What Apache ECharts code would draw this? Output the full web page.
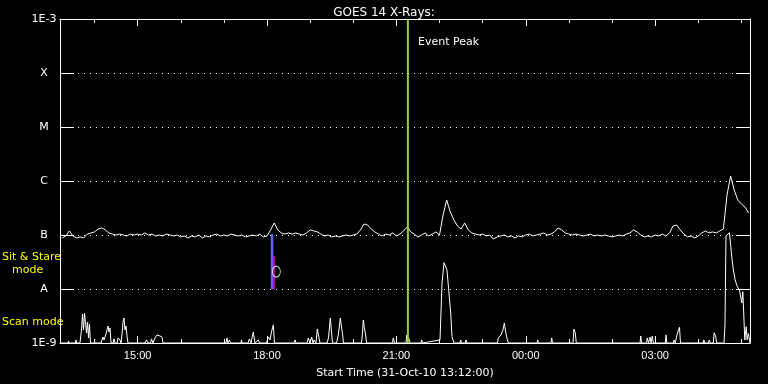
<!DOCTYPE html>
<html>
<head>
<meta charset="utf-8">
<script src="https://cdn.jsdelivr.net/npm/echarts@6/dist/echarts.min.js"></script>
<style>html,body{margin:0;padding:0;background:#000;}#c{width:768px;height:384px;}</style>
</head>
<body>
<div id="c"></div>
<script>
// ---- data ----
const titleText = 'GOES 14 X-Rays:';
const xAxisTitle = 'Start Time (31-Oct-10 13:12:00)';
// time axis in minutes of day (13:12 on 31-Oct to 05:12 next day)
const timeMin = 792, timeMax = 1752;
const majorTicks = [900, 1080, 1260, 1440, 1620];            // 15:00 18:00 21:00 00:00 03:00
const minorTicks = [840, 960, 1020, 1140, 1200, 1320, 1380, 1500, 1560, 1680, 1740];
const yTickLabels = { '-9': '1E-9', '-8': 'A', '-7': 'B', '-6': 'C', '-5': 'M', '-4': 'X', '-3': '1E-3' };

// long channel (1-8 A), 5-minute samples starting 13:15
const longStart = 795, longStep = 5;
const longValues = [
 0.88e-7,0.96e-7,1.19e-7,0.96e-7,0.88e-7,0.92e-7,0.88e-7,1.04e-7,1.09e-7,1.14e-7,
 1.29e-7,1.35e-7,1.24e-7,1.09e-7,1.04e-7,1.00e-7,1.04e-7,1.00e-7,0.96e-7,1.04e-7,
 1.00e-7,1.04e-7,1.00e-7,1.09e-7,1.00e-7,1.04e-7,0.96e-7,1.00e-7,0.96e-7,1.04e-7,
 1.00e-7,0.96e-7,1.00e-7,0.92e-7,0.96e-7,0.88e-7,0.96e-7,0.92e-7,1.00e-7,0.88e-7,
 0.96e-7,0.92e-7,1.00e-7,1.04e-7,0.96e-7,1.00e-7,0.96e-7,1.04e-7,1.00e-7,0.96e-7,
 1.00e-7,0.92e-7,0.96e-7,1.00e-7,0.96e-7,1.04e-7,0.92e-7,0.96e-7,1.24e-7,1.67e-7,
 1.24e-7,1.09e-7,1.04e-7,1.09e-7,1.04e-7,1.09e-7,1.04e-7,1.00e-7,1.09e-7,1.24e-7,
 1.19e-7,1.14e-7,1.04e-7,0.96e-7,1.00e-7,0.92e-7,0.96e-7,0.92e-7,0.96e-7,1.00e-7,
 0.96e-7,1.00e-7,1.04e-7,1.24e-7,1.60e-7,1.53e-7,1.29e-7,1.14e-7,1.04e-7,0.96e-7,
 1.04e-7,1.00e-7,1.09e-7,0.96e-7,1.04e-7,1.19e-7,1.41e-7,1.14e-7,1.04e-7,0.92e-7,
 1.00e-7,1.09e-7,0.96e-7,1.04e-7,1.14e-7,1.00e-7,2.35e-7,4.45e-7,2.67e-7,1.90e-7,
 1.47e-7,1.29e-7,1.67e-7,1.24e-7,1.09e-7,1.04e-7,1.00e-7,1.04e-7,0.96e-7,1.00e-7,
 0.84e-7,0.92e-7,0.96e-7,1.00e-7,0.92e-7,0.96e-7,0.88e-7,0.96e-7,0.92e-7,1.00e-7,
 1.04e-7,0.96e-7,1.00e-7,1.04e-7,1.09e-7,1.00e-7,1.04e-7,1.14e-7,1.35e-7,1.24e-7,
 1.09e-7,1.04e-7,1.00e-7,1.04e-7,1.00e-7,0.96e-7,1.00e-7,1.04e-7,0.96e-7,1.00e-7,
 0.96e-7,1.00e-7,0.96e-7,0.92e-7,0.96e-7,1.00e-7,0.96e-7,1.04e-7,1.09e-7,1.24e-7,
 1.14e-7,1.00e-7,0.92e-7,0.96e-7,0.92e-7,1.00e-7,0.96e-7,1.04e-7,0.96e-7,1.09e-7,
 1.47e-7,1.53e-7,1.24e-7,1.04e-7,0.92e-7,0.96e-7,0.88e-7,0.96e-7,1.09e-7,1.19e-7,
 1.09e-7,1.14e-7,1.09e-7,1.19e-7,1.29e-7,5.5e-7,12.4e-7,6.8e-7,4.45e-7,3.75e-7,
 3.3e-7,2.56e-7
];

// short channel (0.5-4 A), floor at 1E-9
const shortTimes = [
 792,803,803.8,804.5,813.5,814.3,815,
 819.8,821.9,823.3,824.7,826.1,827.5,828.9,830.3,831.7,833,834.4,
 849,851.8,853.2,856,858.8,860.2,861.6,863,
 866,867.1,868.5,871.5,872.7,874,875.5,876.9,
 878.3,879.7,881,882.4,883.8,885.2,886.6,
 910.3,912.3,914.4,918,919.3,921.4,924.2,926.9,929,931.1,933.9,935.3,
 1022.9,1024.3,1025.7,1027.8,1029.2,
 1043.8,1044.5,1045.2,
 1053.6,1055.4,1057.7,1060.9,1063.3,1067.9,1069.6,
 1079.3,1081.8,1084.2,1086.5,1088.8,1090.4,
 1117.6,1119,1120.4,
 1135.7,1137.5,1139.8,1142.2,1144,1145.4,1148.2,1150,1152,1153.7,
 1163.5,1165.5,1168.1,1169.5,1171.1,
 1176.7,1179.2,1182,1183.4,1185.3,1186.4,
 1211.5,1212.6,1214,1215.4,1217.3,1218.4,
 1254.6,1255.7,1257.4,
 1273.4,1274.4,1277.6,1279,
 1294.3,1295.2,1296.4,
 1320.7,1323.5,1326.3,1328.6,1330.4,1333.2,1335.6,1337.4,1340.2,
 1348.5,1349.5,1350.6,1356,1356.9,1358.2,
 1400.7,1401.8,1405.6,1408.3,1410.2,1412.1,1414.4,1416,
 1455.6,1456.6,1457.7,
 1475.1,1476.1,1477.2,
 1505.7,1507.1,1508.9,1510.3,
 1599,1600,1601.1,
 1608,1609.1,1610.8,1612.9,1614.3,1616.1,1617.5,
 1634.3,1635.1,1636.4,
 1645.3,1646.4,1648.1,1649.7,1652,1653.9,1655.3,
 1687.1,1687.7,1689.1,1694.3,1695.1,1696.8,1701,1702.1,1704.1,1705.5,
 1715.8,1717.2,1718.6,1723.4,1725.3,1727.1,1728.9,1731.3,1734.5,1737.3,1740.6,1742,1744.2,1744.8,1746.7,1748,1749.8,1752
];
const shortValues = [
 1e-9,1e-9,1.09e-9,1e-9,1e-9,1.14e-9,1e-9,
 1e-9,1.74e-9,3.44e-9,1.74e-9,3.59e-9,3.75e-9,1.53e-9,2.45e-9,1.24e-9,2.25e-9,1e-9,
 1e-9,1.29e-9,1.14e-9,1.47e-9,2.06e-9,1.6e-9,1.9e-9,1e-9,
 1e-9,1.19e-9,1e-9,1e-9,1.24e-9,1.14e-9,1.14e-9,1e-9,
 1.47e-9,2.45e-9,2.9e-9,1.74e-9,2.06e-9,1.35e-9,1e-9,
 1e-9,1.14e-9,1e-9,1e-9,1.19e-9,1e-9,1.24e-9,1.41e-9,1.47e-9,1.35e-9,1.29e-9,1e-9,
 1e-9,1.24e-9,1e-9,1.14e-9,1e-9,
 1e-9,1.14e-9,1e-9,
 1e-9,1.19e-9,1e-9,1.6e-9,1e-9,1.14e-9,1e-9,
 1e-9,1.29e-9,1.14e-9,1.67e-9,2.15e-9,1e-9,
 1e-9,1.14e-9,1e-9,
 1e-9,1.24e-9,1e-9,1.29e-9,1e-9,1.14e-9,1e-9,1.82e-9,1.74e-9,1e-9,
 1e-9,1.24e-9,2.9e-9,2.67e-9,1e-9,
 1e-9,1.41e-9,2.9e-9,2.06e-9,1.41e-9,1e-9,
 1e-9,1.41e-9,2.67e-9,1.9e-9,1.41e-9,1e-9,
 1e-9,1.24e-9,1e-9,
 1e-9,1.41e-9,1.19e-9,1e-9,
 1e-9,1.14e-9,1e-9,
 1.14e-9,12.9e-9,30.7e-9,31.6e-9,22.5e-9,8.4e-9,3.59e-9,1.31e-9,1e-9,
 1e-9,1.14e-9,1e-9,1e-9,1.14e-9,1e-9,
 1e-9,1.24e-9,1.41e-9,1.74e-9,2.35e-9,1.6e-9,1.14e-9,1e-9,
 1e-9,1.14e-9,1e-9,
 1e-9,1.24e-9,1e-9,
 1e-9,1.82e-9,1.55e-9,1e-9,
 1e-9,1.35e-9,1e-9,
 1e-9,1.24e-9,1e-9,1.29e-9,1e-9,1.35e-9,1e-9,
 1e-9,1.41e-9,1e-9,
 1e-9,1.14e-9,1e-9,1.29e-9,1.67e-9,1.95e-9,1e-9,
 1e-9,1.14e-9,1e-9,1e-9,1.14e-9,1e-9,1e-9,1.55e-9,1.35e-9,1e-9,
 1e-9,2.15e-9,96e-9,110e-9,61e-9,34.4e-9,22.5e-9,14.7e-9,11.0e-9,9.6e-9,5.5e-9,8.9e-9,8.9e-9,1.14e-9,2.0e-9,1.14e-9,1.5e-9,1e-9
];

// sit & stare markers
const sitStareTime = 1087, sitStareTop = 1.04e-7, sitStareBottom = 1e-8;
const sitStare2Time = 1089.5, sitStare2Top = 4.1e-8;
const circleTime = 1093, circleValue = 2.1e-8;
const eventPeakTime = 1276;
const eventPeakLabel = 'Event Peak';
const modeLabels = ['Sit & Stare', 'mode', 'Scan mode'];

// ---- chart ----
const chart = echarts.init(document.getElementById('c'), null, { renderer: 'canvas' });
const FONT = 'DejaVu Sans';
function hhmm(v) {
  const m = ((Math.round(v) % 1440) + 1440) % 1440;
  const h = Math.floor(m / 60), mm = m % 60;
  return String(h).padStart(2, '0') + ':' + String(mm).padStart(2, '0');
}
const longData = longValues.map((v, i) => [longStart + longStep * i, v]);
const shortData = shortValues.map((v, i) => [shortTimes[i], v]);

const baseX = { type: 'value', min: timeMin, max: timeMax, gridIndex: 0, splitLine: { show: false } };
chart.setOption({
  backgroundColor: '#000',
  animation: false,
  title: {
    text: titleText, left: 'center', top: 2,
    textStyle: { color: '#fff', fontFamily: FONT, fontSize: 12, fontWeight: 'normal' }
  },
  grid: { left: 60, right: 18, top: 19, bottom: 41, containLabel: false },
  xAxis: [
    Object.assign({}, baseX, {
      position: 'bottom',
      axisLine: { show: true, lineStyle: { color: '#fff', width: 1 } },
      axisTick: { show: true, inside: true, length: 7, customValues: majorTicks, lineStyle: { color: '#fff' } },
      axisLabel: { show: true, customValues: majorTicks, formatter: hhmm, color: '#fff', fontFamily: 'Liberation Sans', fontSize: 11, margin: 7 },
      name: xAxisTitle, nameLocation: 'middle', nameGap: 25,
      nameTextStyle: { color: '#fff', fontFamily: FONT, fontSize: 11 }
    }),
    Object.assign({}, baseX, {
      position: 'bottom',
      axisLine: { show: false },
      axisTick: { show: true, inside: true, length: 4, customValues: minorTicks, lineStyle: { color: '#fff' } },
      axisLabel: { show: false }
    }),
    Object.assign({}, baseX, {
      position: 'top',
      axisLine: { show: true, lineStyle: { color: '#fff', width: 1 } },
      axisTick: { show: true, inside: true, length: 7, customValues: majorTicks, lineStyle: { color: '#fff' } },
      axisLabel: { show: false }
    }),
    Object.assign({}, baseX, {
      position: 'top',
      axisLine: { show: false },
      axisTick: { show: true, inside: true, length: 4, customValues: minorTicks, lineStyle: { color: '#fff' } },
      axisLabel: { show: false }
    })
  ],
  yAxis: [
    {
      type: 'log', logBase: 10, min: 1e-9, max: 1e-3, position: 'left',
      axisLine: { show: true, lineStyle: { color: '#fff', width: 1 } },
      axisTick: { show: true, inside: true, length: 14, lineStyle: { color: '#fff', width: 1 } },
      axisLabel: {
        color: '#fff', fontFamily: FONT, fontSize: 11, align: 'center', margin: 16,
        formatter: v => yTickLabels[String(Math.round(Math.log10(v)))] || ''
      },
      splitLine: { show: true, lineStyle: { color: '#fff', type: [1, 5], width: 1 } },
      minorTick: { show: false }
    },
    {
      type: 'log', logBase: 10, min: 1e-9, max: 1e-3, position: 'right',
      axisLine: { show: true, lineStyle: { color: '#fff', width: 1 } },
      axisTick: { show: true, inside: true, length: 14, lineStyle: { color: '#fff', width: 1 } },
      axisLabel: { show: false },
      splitLine: { show: false }
    }
  ],
  series: [
    {
      name: 'long', type: 'line', data: longData, showSymbol: false, symbol: 'none',
      lineStyle: { color: '#fff', width: 1 }, z: 3, clip: true
    },
    {
      name: 'short', type: 'line', data: shortData, showSymbol: false, symbol: 'none',
      lineStyle: { color: '#fff', width: 1 }, z: 3, clip: true
    },
    {
      name: 'sitstare', type: 'line', data: [[sitStareTime, sitStareTop], [sitStareTime, sitStareBottom]],
      showSymbol: false, symbol: 'none', lineStyle: { color: '#6464ff', width: 2.5 }, z: 4
    },
    {
      name: 'sitstare2', type: 'line', data: [[sitStare2Time, sitStare2Top], [sitStare2Time, sitStareBottom]],
      showSymbol: false, symbol: 'none', lineStyle: { color: '#cc00cc', width: 2 }, z: 4
    },
    {
      name: 'circle', type: 'scatter', data: [[circleTime, circleValue]],
      symbol: 'circle', symbolSize: [8, 11],
      itemStyle: { color: 'rgba(0,0,0,0)', borderColor: '#fff', borderWidth: 1 }, z: 5
    },
    {
      name: 'event', type: 'line', data: [[eventPeakTime, 1e-9], [eventPeakTime, 1e-3]],
      showSymbol: false, symbol: 'none', lineStyle: { color: '#9acd32', width: 2 }, z: 6
    }
  ],
  graphic: [
    { type: 'text', left: 418, top: 37, style: { text: eventPeakLabel, fill: '#fff', font: '11px "DejaVu Sans"' } },
    { type: 'text', left: 2, top: 252, style: { text: modeLabels[0], fill: '#ffff00', font: '11px "DejaVu Sans"' } },
    { type: 'text', left: 12, top: 265, style: { text: modeLabels[1], fill: '#ffff00', font: '11px "DejaVu Sans"' } },
    { type: 'text', left: 2, top: 317, style: { text: modeLabels[2], fill: '#ffff00', font: '11px "DejaVu Sans"' } }
  ]
});
</script>
</body>
</html>
